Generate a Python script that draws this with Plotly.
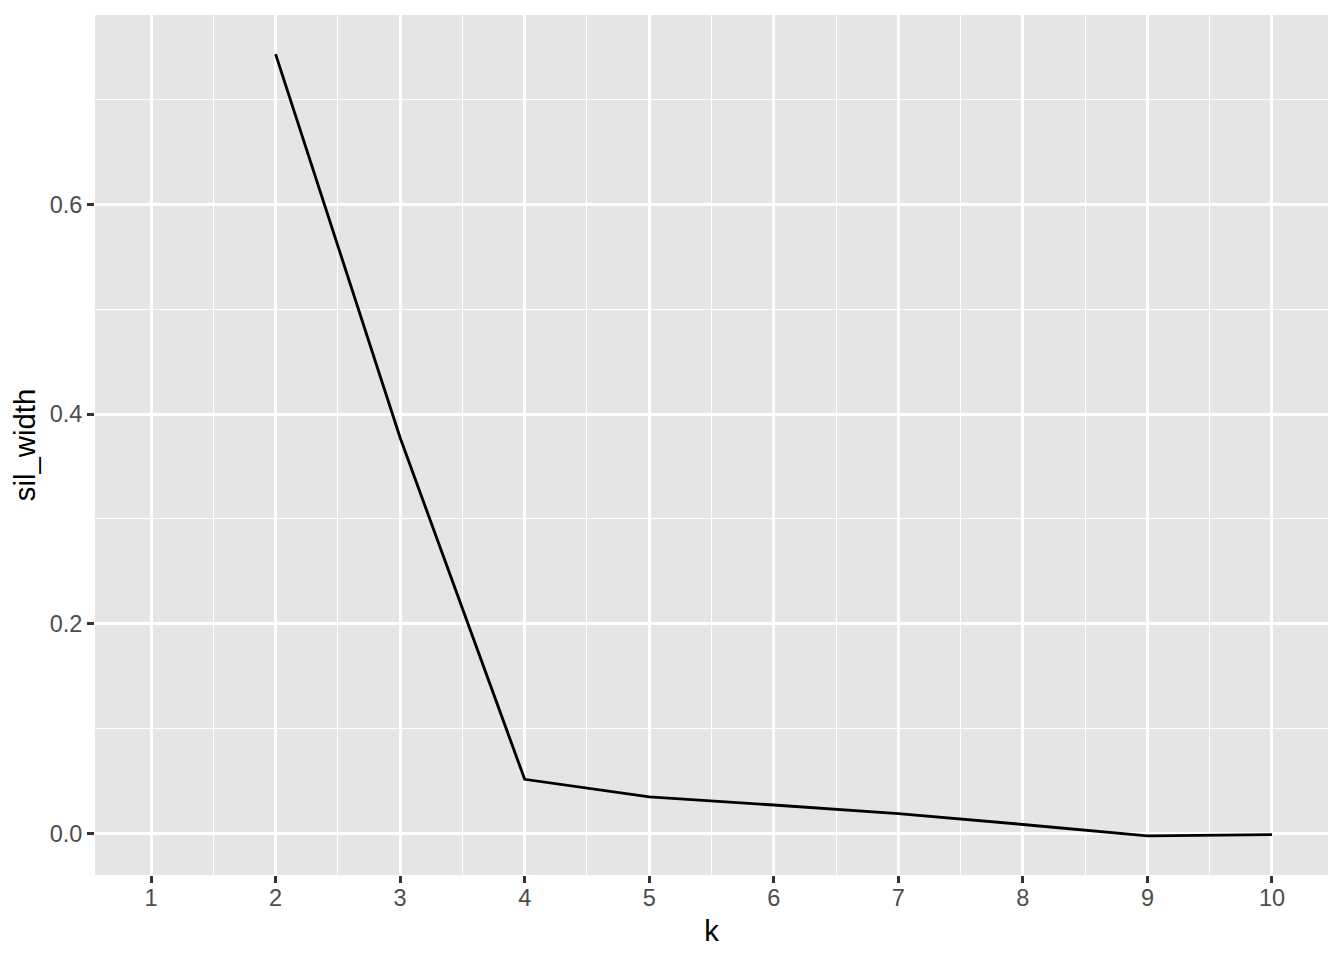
"""Silhouette width vs number of clusters (ggplot-style)"""
import plotly.graph_objects as go

k_values = [1, 2, 3, 4, 5, 6, 7, 8, 9, 10]
sil_width = [None, 0.7434, 0.3775, 0.0517, 0.0349, 0.0272, 0.0190, 0.0086, -0.0023, -0.0010]

x_ticks = [1, 2, 3, 4, 5, 6, 7, 8, 9, 10]
y_ticks = [0.0, 0.2, 0.4, 0.6]
y_labels = ["0.0", "0.2", "0.4", "0.6"]

FONT = "Liberation Sans, Arial, Helvetica, sans-serif"
PANEL = "#E5E5E5"

# ggplot-like expansion of 5% on each side
vals = [v for v in sil_width if v is not None]
y_span = max(vals) - min(vals)
y_range = [min(vals) - 0.05 * y_span, max(vals) + 0.05 * y_span]
x_span = max(k_values) - min(k_values)
x_range = [min(k_values) - 0.05 * x_span, max(k_values) + 0.05 * x_span]

fig = go.Figure()
fig.add_trace(
    go.Scatter(
        x=k_values,
        y=sil_width,
        mode="lines",
        line=dict(color="black", width=2.85),
        connectgaps=False,
        showlegend=False,
    )
)

axis_common = dict(
    showline=False,
    zeroline=False,
    showgrid=True,
    gridcolor="white",
    gridwidth=2.85,
    ticks="outside",
    ticklen=7,
    tickwidth=2.85,
    tickcolor="#333333",
    tickfont=dict(family=FONT, size=23.5, color="#4D4D4D"),
)

fig.update_xaxes(
    **axis_common,
    range=x_range,
    tickvals=x_ticks,
    ticktext=[str(v) for v in x_ticks],
    ticklabelstandoff=-5,
    minor=dict(dtick=0.5, tick0=0.5, showgrid=True, gridcolor="white", gridwidth=1.42, ticks=""),
    title=dict(text="k", font=dict(family=FONT, size=29.3, color="black"), standoff=10),
)
fig.update_yaxes(
    **axis_common,
    range=y_range,
    tickvals=y_ticks,
    ticktext=y_labels,
    minor=dict(dtick=0.1, tick0=0.1, showgrid=True, gridcolor="white", gridwidth=1.42, ticks=""),
    title=dict(text="sil_width", font=dict(family=FONT, size=29.3, color="black"), standoff=8),
)

# the page body adds an 8px offset, so the figure is sized to fit the window
fig.update_layout(
    width=1328,
    height=944,
    margin=dict(l=87, r=8, t=7, b=77),
    plot_bgcolor=PANEL,
    paper_bgcolor="white",
    font=dict(family=FONT),
)

fig.write_html("out.html")
